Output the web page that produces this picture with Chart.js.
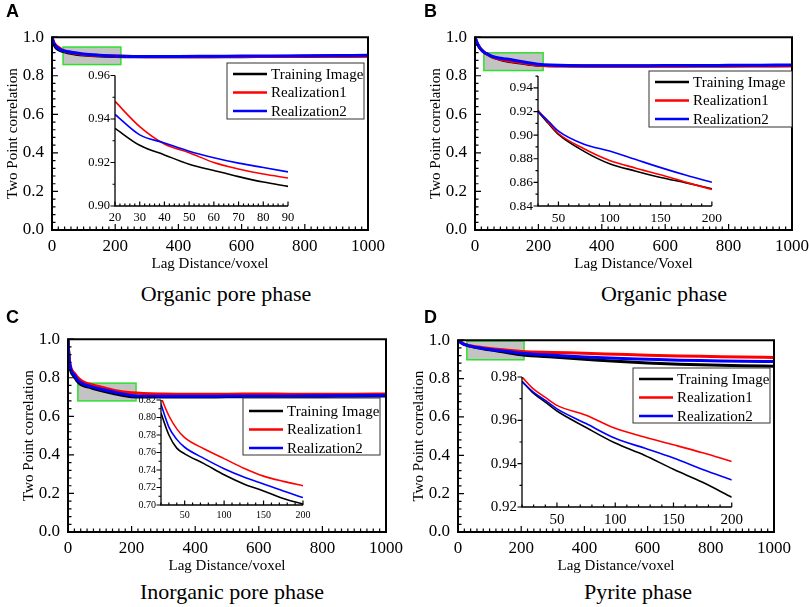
<!DOCTYPE html>
<html lang="en">
<head>
<meta charset="UTF-8" />
<title>Two point correlation</title>
<script src="https://cdn.jsdelivr.net/npm/chart.js"></script>
<style>
  body { margin: 0; background: #fff; }
  #page { position: relative; width: 809px; height: 607px; overflow: hidden; }
  canvas { position: absolute; }
  .tag { position: absolute; font: bold 18px "Liberation Sans", Arial, sans-serif; line-height: 1; transform: translate(-50%, -50%); }
  .cap { position: absolute; font: 22px "Liberation Serif", "Times New Roman", serif; line-height: 1; white-space: nowrap; transform: translate(-50%, -50%); }
</style>
</head>
<body>
<div id="page"></div>
<script>
const seriesNames = ["Training Image", "Realization1", "Realization2"];
const seriesColors = ["#000000", "#ff0000", "#0000ff"];

// main plots share the lag axis samples
const mainX = [0, 2, 5, 10, 15, 20, 30, 40, 50, 75, 100, 150, 200, 300, 400, 500, 600, 700, 800, 900, 1000];
const mainTicksX = [0, 200, 400, 600, 800, 1000];
const mainTicksY = [0, 0.2, 0.4, 0.6, 0.8, 1.0];

// A - organic pore phase
const poreTI = [1.0, 0.985, 0.968, 0.950, 0.941, 0.9355, 0.928, 0.924, 0.919, 0.912, 0.907, 0.902, 0.900, 0.898, 0.898, 0.899, 0.899, 0.900, 0.900, 0.901, 0.902];
const poreR1 = [1.0, 0.988, 0.975, 0.962, 0.954, 0.948, 0.936, 0.928, 0.9245, 0.916, 0.910, 0.905, 0.902, 0.899, 0.899, 0.899, 0.900, 0.900, 0.901, 0.901, 0.902];
const poreR2 = [1.0, 0.987, 0.972, 0.957, 0.948, 0.942, 0.933, 0.929, 0.925, 0.919, 0.913, 0.907, 0.903, 0.900, 0.900, 0.901, 0.902, 0.903, 0.904, 0.905, 0.906];
const poreInsetX = [20, 30, 40, 50, 60, 70, 80, 90];
const poreInsetTI = [0.9357, 0.9279, 0.9235, 0.9192, 0.9163, 0.9135, 0.911, 0.909];
const poreInsetR1 = [0.9481, 0.9365, 0.9285, 0.9245, 0.920, 0.917, 0.9147, 0.9129];
const poreInsetR2 = [0.9421, 0.9327, 0.929, 0.9252, 0.9222, 0.9197, 0.9177, 0.9157];
const poreInsetTicksX = [20, 30, 40, 50, 60, 70, 80, 90];
const poreInsetTicksY = [0.90, 0.92, 0.94, 0.96];

// B - organic phase
const orgTI = [1.0, 0.99, 0.976, 0.958, 0.945, 0.935, 0.920, 0.910, 0.9006, 0.8863, 0.8758, 0.8645, 0.8546, 0.851, 0.850, 0.850, 0.850, 0.851, 0.851, 0.852, 0.853];
const orgR1 = [1.0, 0.99, 0.976, 0.959, 0.946, 0.936, 0.921, 0.911, 0.9014, 0.8885, 0.8786, 0.8668, 0.854, 0.850, 0.849, 0.849, 0.849, 0.850, 0.850, 0.851, 0.851];
const orgR2 = [1.0, 0.99, 0.976, 0.958, 0.945, 0.935, 0.920, 0.912, 0.9034, 0.8923, 0.8865, 0.8725, 0.8601, 0.853, 0.852, 0.852, 0.853, 0.853, 0.854, 0.855, 0.856];
const orgInsetX = [30, 40, 50, 75, 100, 125, 150, 175, 200];
const orgInsetTI = [0.920, 0.910, 0.9006, 0.8863, 0.8758, 0.8697, 0.8642, 0.8596, 0.8546];
const orgInsetR1 = [0.921, 0.911, 0.9014, 0.8885, 0.8786, 0.8722, 0.8664, 0.860, 0.854];
const orgInsetR2 = [0.920, 0.912, 0.9034, 0.8923, 0.8865, 0.8795, 0.8725, 0.866, 0.8601];
const orgInsetTicksX = [50, 100, 150, 200];
const orgInsetTicksY = [0.84, 0.86, 0.88, 0.90, 0.92, 0.94];

// C - inorganic pore phase
const inorgTI = [1.0, 0.93, 0.87, 0.83, 0.815, 0.805, 0.780, 0.765, 0.7585, 0.747, 0.7345, 0.716, 0.702, 0.700, 0.700, 0.701, 0.702, 0.702, 0.703, 0.704, 0.705];
const inorgR1 = [1.0, 0.94, 0.885, 0.848, 0.832, 0.823, 0.802, 0.787, 0.777, 0.764, 0.753, 0.733, 0.722, 0.716, 0.715, 0.715, 0.716, 0.715, 0.715, 0.715, 0.716];
const inorgR2 = [1.0, 0.935, 0.878, 0.838, 0.823, 0.815, 0.789, 0.775, 0.766, 0.753, 0.7415, 0.724, 0.7085, 0.704, 0.704, 0.705, 0.706, 0.706, 0.707, 0.708, 0.709];
const inorgInsetX = [20, 30, 40, 50, 75, 100, 125, 150, 175, 200];
const inorgInsetTI = [0.805, 0.780, 0.765, 0.7585, 0.747, 0.7345, 0.724, 0.716, 0.7075, 0.701];
const inorgInsetR1 = [0.823, 0.802, 0.787, 0.777, 0.764, 0.753, 0.742, 0.733, 0.727, 0.722];
const inorgInsetR2 = [0.815, 0.789, 0.775, 0.766, 0.753, 0.7415, 0.732, 0.724, 0.716, 0.7085];
const inorgInsetTicksX = [50, 100, 150, 200];
const inorgInsetTicksY = [0.70, 0.72, 0.74, 0.76, 0.78, 0.80, 0.82];

// D - pyrite phase
const pyrTI = [1.0, 0.997, 0.993, 0.987, 0.982, 0.978, 0.9724, 0.9684, 0.9643, 0.9567, 0.9495, 0.9374, 0.9245, 0.912, 0.901, 0.890, 0.881, 0.875, 0.871, 0.867, 0.864];
const pyrR1 = [1.0, 0.997, 0.994, 0.989, 0.984, 0.980, 0.9744, 0.9706, 0.9669, 0.9623, 0.9563, 0.9487, 0.941, 0.936, 0.932, 0.927, 0.922, 0.918, 0.915, 0.912, 0.910];
const pyrR2 = [1.0, 0.997, 0.993, 0.987, 0.982, 0.9779, 0.9729, 0.9692, 0.9653, 0.9585, 0.9517, 0.9426, 0.9325, 0.922, 0.913, 0.906, 0.901, 0.896, 0.893, 0.890, 0.889];
const pyrInsetX = [20, 30, 40, 50, 75, 100, 125, 150, 175, 200];
const pyrInsetTI = [0.978, 0.9724, 0.9684, 0.9643, 0.9567, 0.9495, 0.9439, 0.9374, 0.9314, 0.9245];
const pyrInsetR1 = [0.980, 0.9744, 0.9706, 0.9669, 0.9623, 0.9563, 0.9523, 0.9487, 0.945, 0.941];
const pyrInsetR2 = [0.9779, 0.9729, 0.9692, 0.9653, 0.9585, 0.9517, 0.9472, 0.9426, 0.9373, 0.9325];
const pyrInsetTicksX = [50, 100, 150, 200];
const pyrInsetTicksY = [0.92, 0.94, 0.96, 0.98];

// zoomed windows marked on the main plots [x0, x1, y0, y1]
const poreZone = [35, 218, 0.858, 0.949];
const orgZone = [28, 215, 0.827, 0.919];
const inorgZone = [31, 214, 0.680, 0.772];
const pyrZone = [28, 209, 0.898, 0.995];

Chart.defaults.font.family = "'Liberation Serif', 'Times New Roman', serif";
Chart.defaults.color = "#000";

// layout of the four panels (page pixels)
const panels = [
  { tag: "A", tagAt: [12.5, 11], caption: "Organic pore phase", capAt: [226, 294], xTitle: "Lag Distance/voxel",
    main: { l: 52, t: 33, r: 368, b: 230 }, mainY: [poreTI, poreR1, poreR2], zone: poreZone,
    legend: { l: 227, t: 63, r: 364, b: 119, row0: 11 },
    inset: { l: 115, t: 73, r: 288, b: 206 }, insetX: poreInsetX, insetY: [poreInsetTI, poreInsetR1, poreInsetR2],
    xRange: [20, 90], yRange: [0.90, 0.96], ticksX: poreInsetTicksX, ticksY: poreInsetTicksY, minorX: 2, font: 12.5 },
  { tag: "B", tagAt: [430.5, 11], caption: "Organic phase", capAt: [664, 294], xTitle: "Lag Distance/Voxel",
    main: { l: 475, t: 33, r: 792, b: 230 }, mainY: [orgTI, orgR1, orgR2], zone: orgZone,
    legend: { l: 649, t: 71, r: 792, b: 127, row0: 11 },
    inset: { l: 538, t: 73, r: 712, b: 206 }, insetX: orgInsetX, insetY: [orgInsetTI, orgInsetR1, orgInsetR2],
    xRange: [30, 200], yRange: [0.84, 0.95], ticksX: orgInsetTicksX, ticksY: orgInsetTicksY, minorX: 10, font: 13.5 },
  { tag: "C", tagAt: [12.5, 316.5], caption: "Inorganic pore phase", capAt: [232, 592], xTitle: "Lag Distance/voxel",
    main: { l: 68, t: 335, r: 386, b: 532 }, mainY: [inorgTI, inorgR1, inorgR2], zone: inorgZone,
    legend: { l: 243, t: 398, r: 380, b: 455, row0: 13 },
    inset: { l: 161, t: 399, r: 303, b: 505 }, insetX: inorgInsetX, insetY: [inorgInsetTI, inorgInsetR1, inorgInsetR2],
    xRange: [20, 200], yRange: [0.70, 0.82], ticksX: inorgInsetTicksX, ticksY: inorgInsetTicksY, minorX: 10, font: 10 },
  { tag: "D", tagAt: [430.5, 317], caption: "Pyrite phase", capAt: [638, 592], xTitle: "Lag Distance/voxel",
    main: { l: 458, t: 336, r: 774, b: 532 }, mainY: [pyrTI, pyrR1, pyrR2], zone: pyrZone,
    legend: { l: 633, t: 368, r: 770, b: 423, row0: 11 },
    inset: { l: 522, t: 373, r: 733, b: 507 }, insetX: pyrInsetX, insetY: [pyrInsetTI, pyrInsetR1, pyrInsetR2],
    xRange: [20, 200], yRange: [0.92, 0.98], ticksX: pyrInsetTicksX, ticksY: pyrInsetTicksY, minorX: 10, font: 15 }
];

const near = (v, list) => list.some(t => Math.abs(t - v) < 1e-6);

// frame, inward/outward minor ticks, shaded zone and boxed legend
const decor = {
  id: "decor",
  beforeDatasetsDraw(chart, args, o) {
    if (!o.zone) return;
    const { ctx, scales: { x, y } } = chart;
    const x0 = x.getPixelForValue(o.zone[0]), x1 = x.getPixelForValue(o.zone[1]);
    const y0 = y.getPixelForValue(o.zone[3]), y1 = y.getPixelForValue(o.zone[2]);
    ctx.save();
    ctx.fillStyle = "#c3c3c3";
    ctx.fillRect(x0, y0, x1 - x0, y1 - y0);
    ctx.strokeStyle = "#2ee02e";
    ctx.lineWidth = 1.5;
    ctx.strokeRect(x0, y0, x1 - x0, y1 - y0);
    ctx.restore();
  },
  afterDraw(chart, args, o) {
    const { ctx, chartArea: a, scales: { x, y } } = chart;
    ctx.save();
    ctx.strokeStyle = "#000";
    ctx.lineWidth = o.lw;
    ctx.beginPath();
    if (o.box) {
      ctx.rect(a.left, a.top, a.right - a.left, a.bottom - a.top);
    } else {
      ctx.moveTo(a.left, a.top);
      ctx.lineTo(a.left, a.bottom);
      ctx.lineTo(a.right, a.bottom);
    }
    ctx.stroke();
    ctx.lineWidth = 1.2;
    ctx.beginPath();
    const sx = Math.ceil(x.min / o.minorX - 1e-9);
    for (let k = sx; k * o.minorX <= x.max + 1e-9; k++) {
      const v = k * o.minorX, px = x.getPixelForValue(v);
      const len = near(v, o.majorX) ? o.major : o.minor;
      ctx.moveTo(px, a.bottom);
      ctx.lineTo(px, a.bottom - len);
    }
    const sy = Math.ceil(y.min / o.minorY - 1e-9);
    for (let k = sy; k * o.minorY <= y.max + 1e-9; k++) {
      const v = k * o.minorY, py = y.getPixelForValue(v);
      const len = near(v, o.majorY) ? o.major : o.minor;
      ctx.moveTo(a.left, py);
      ctx.lineTo(o.yOut ? a.left - len : a.left + len, py);
    }
    ctx.stroke();
    if (o.legend) {
      const L = o.legend;
      ctx.fillStyle = "#fff";
      ctx.fillRect(L.l, L.t, L.r - L.l, L.b - L.t);
      ctx.strokeStyle = "#333";
      ctx.lineWidth = 1;
      ctx.strokeRect(L.l, L.t, L.r - L.l, L.b - L.t);
      ctx.font = "15px 'Liberation Serif', 'Times New Roman', serif";
      ctx.textBaseline = "middle";
      seriesNames.forEach((name, i) => {
        const ry = L.t + L.row0 + i * 18.5;
        ctx.strokeStyle = seriesColors[i];
        ctx.lineWidth = 2.5;
        ctx.beginPath();
        ctx.moveTo(L.l + 6, ry);
        ctx.lineTo(L.l + 40, ry);
        ctx.stroke();
        ctx.fillStyle = "#000";
        ctx.fillText(name, L.l + 44, ry + 1);
      });
    }
    ctx.restore();
  }
};

const page = document.getElementById("page");

function addCanvas(left, top, w, h) {
  const c = document.createElement("canvas");
  c.width = w; c.height = h;
  c.style.left = left + "px"; c.style.top = top + "px";
  c.style.width = w + "px"; c.style.height = h + "px";
  page.appendChild(c);
  return c;
}

function lines(xs, ys, width) {
  return ys.map((vals, i) => ({
    label: seriesNames[i],
    data: xs.map((xv, k) => ({ x: xv, y: vals[k] })),
    borderColor: seriesColors[i],
    borderWidth: width,
    pointRadius: 0,
    fill: false,
    cubicInterpolationMode: "monotone",
    order: 3 - i
  }));
}

function makeMain(p) {
  const m = p.main, offL = 48, offT = 14, offR = 24, offB = 43;
  const left = m.l - offL, top = m.t - offT;
  const canvas = addCanvas(left, top, m.r - m.l + offL + offR, m.b - m.t + offT + offB);
  const leg = { l: p.legend.l - left, t: p.legend.t - top, r: p.legend.r - left, b: p.legend.b - top, row0: p.legend.row0 };
  new Chart(canvas, {
    type: "line",
    data: { datasets: lines(mainX, p.mainY, 3) },
    options: {
      responsive: false, animation: false, events: [],
      layout: { padding: { left: 0, top: offT, right: offR, bottom: 0 } },
      plugins: {
        legend: { display: false }, tooltip: { enabled: false },
        decor: { box: true, lw: 2, zone: p.zone, legend: leg, minorX: 20, minorY: 0.04,
                 majorX: mainTicksX, majorY: mainTicksY, major: 6, minor: 3.5, yOut: false }
      },
      scales: {
        x: {
          type: "linear", min: 0, max: 1000,
          grid: { display: false, drawTicks: false }, border: { display: false },
          ticks: { font: { size: 17 }, padding: 6, autoSkip: false, maxRotation: 0, callback: v => String(v) },
          afterBuildTicks: s => { s.ticks = mainTicksX.map(v => ({ value: v })); },
          afterFit: s => { s.height = offB; },
          title: { display: true, text: p.xTitle, font: { size: 15 }, padding: 0 }
        },
        y: {
          type: "linear", min: 0, max: 1,
          grid: { display: false, drawTicks: false }, border: { display: false },
          ticks: { font: { size: 17 }, padding: 8, autoSkip: false, callback: v => v.toFixed(1) },
          afterBuildTicks: s => { s.ticks = mainTicksY.map(v => ({ value: v })); },
          afterFit: s => { s.width = offL; },
          title: { display: true, text: "Two Point correlation", font: { size: 15 }, padding: 0 }
        }
      }
    },
    plugins: [decor]
  });
}

function makeInset(p) {
  const n = p.inset, offL = 38, offT = 10, offR = 14, offB = 22;
  const left = n.l - offL, top = n.t - offT;
  const canvas = addCanvas(left, top, n.r - n.l + offL + offR, n.b - n.t + offT + offB);
  new Chart(canvas, {
    type: "line",
    data: { datasets: lines(p.insetX, p.insetY, 1.6) },
    options: {
      responsive: false, animation: false, events: [],
      layout: { padding: { left: 0, top: offT, right: offR, bottom: 0 } },
      plugins: {
        legend: { display: false }, tooltip: { enabled: false },
        decor: { box: false, lw: 1.3, minorX: p.minorX, minorY: 0.01,
                 majorX: p.ticksX, majorY: p.ticksY, major: 4.5, minor: 2.5, yOut: true }
      },
      scales: {
        x: {
          type: "linear", min: p.xRange[0], max: p.xRange[1],
          grid: { display: false, drawTicks: false }, border: { display: false },
          ticks: { font: { size: p.font }, padding: 4, autoSkip: false, maxRotation: 0, callback: v => String(v) },
          afterBuildTicks: s => { s.ticks = p.ticksX.map(v => ({ value: v })); },
          afterFit: s => { s.height = offB; }
        },
        y: {
          type: "linear", min: p.yRange[0], max: p.yRange[1],
          grid: { display: false, drawTicks: false }, border: { display: false },
          ticks: { font: { size: p.font }, padding: 5, autoSkip: false, callback: v => v.toFixed(2) },
          afterBuildTicks: s => { s.ticks = p.ticksY.map(v => ({ value: v })); },
          afterFit: s => { s.width = offL; }
        }
      }
    },
    plugins: [decor]
  });
}

panels.forEach(p => {
  makeMain(p);
  makeInset(p);
  const t = document.createElement("div");
  t.className = "tag"; t.textContent = p.tag;
  t.style.left = p.tagAt[0] + "px"; t.style.top = p.tagAt[1] + "px";
  page.appendChild(t);
  const c = document.createElement("div");
  c.className = "cap"; c.textContent = p.caption;
  c.style.left = p.capAt[0] + "px"; c.style.top = p.capAt[1] + "px";
  page.appendChild(c);
});
</script>
</body>
</html>
